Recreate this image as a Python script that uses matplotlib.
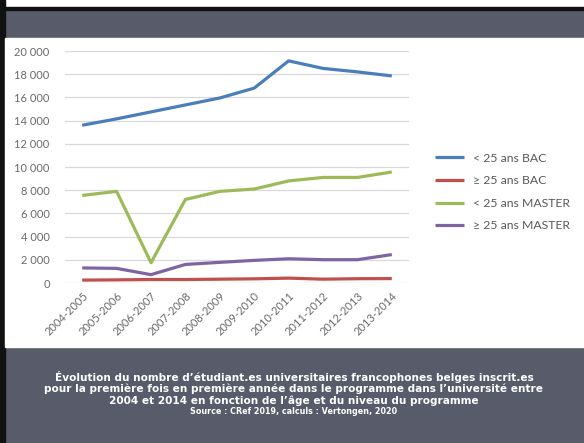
import matplotlib.pyplot as plt
from matplotlib.patches import Rectangle

plt.rcParams['font.family'] = ['Lato', 'DejaVu Sans']

years = ["2004-2005", "2005-2006", "2006-2007", "2007-2008", "2008-2009",
         "2009-2010", "2010-2011", "2011-2012", "2012-2013", "2013-2014"]
bac_young = [13600, 14150, 14750, 15350, 15950, 16800, 19150, 18500, 18200, 17850]
bac_old = [250, 270, 300, 300, 330, 360, 420, 330, 370, 380]
master_young = [7550, 7900, 1750, 7200, 7900, 8100, 8800, 9100, 9100, 9570]
master_old = [1300, 1260, 720, 1600, 1780, 1950, 2090, 2010, 2010, 2450]
yticks = [0, 2000, 4000, 6000, 8000, 10000, 12000, 14000, 16000, 18000, 20000]

series = [
    ("< 25 ans BAC", bac_young, "#4a7ebb"),
    ("\u2265 25 ans BAC", bac_old, "#c0504d"),
    ("< 25 ans MASTER", master_young, "#9bbb59"),
    ("\u2265 25 ans MASTER", master_old, "#8064a2"),
]

W, H = 584, 443
slide = "#585b6a"
fig = plt.figure(figsize=(W / 100, H / 100), dpi=100, facecolor=slide)

def px_rect(x0, y0, x1, y1, color):
    # pixel coords from the top left corner
    fig.patches.append(Rectangle((x0 / W, 1 - y1 / H), (x1 - x0) / W, (y1 - y0) / H,
                                 transform=fig.transFigure, color=color, zorder=-5))

px_rect(0, 0, W, 7, "white")
px_rect(0, 7, W, 10, "#111111")
px_rect(0, 0, 5, H, "#111111")
px_rect(5, 38, W, 347, "white")

ax = fig.add_axes([65 / W, 1 - 283 / H, 344 / W, 232 / H], zorder=2)
ax.set_facecolor("none")
x = list(range(len(years)))
for name, vals, col in series:
    ax.plot(x, vals, color=col, lw=2.3, label=name, solid_capstyle="butt")

ax.set_xlim(-0.5, len(years) - 0.5)
ax.set_ylim(0, 20000)
ax.set_yticks(yticks)
ax.set_yticklabels([f"{v:,}".replace(",", " ") for v in yticks])
ax.set_xticks(x)
ax.set_xticklabels(years, rotation=45, ha="right", rotation_mode="anchor")
ax.tick_params(length=0, labelsize=8, colors="#6a6a6a")
ax.tick_params(axis="y", pad=11)
ax.tick_params(axis="x", pad=5)
ax.grid(axis="y", color="#d9d9d9", lw=0.9)
ax.set_axisbelow(True)
for s in ax.spines.values():
    s.set_visible(False)

fig.legend(loc="center left", bbox_to_anchor=(424 / W, 1 - 192 / H), frameon=False,
           fontsize=8.8, labelcolor="#595959", handlelength=2.4, handletextpad=0.7,
           labelspacing=0.95)

caption = ["\u00c9volution du nombre d\u2019\u00e9tudiant.es universitaires francophones belges inscrit.es",
           "pour la premi\u00e8re fois en premi\u00e8re ann\u00e9e dans le programme dans l\u2019universit\u00e9 entre",
           "2004 et 2014 en fonction de l\u2019\u00e2ge et du niveau du programme"]
for i, line in enumerate(caption):
    fig.text(294 / W, 1 - (377 + 12 * i) / H, line, ha="center", va="center", color="white",
             fontsize=7.6, fontweight="bold", family="DejaVu Sans")
fig.text(294 / W, 1 - 412 / H, "Source : CRef 2019, calculs : Vertongen, 2020",
         ha="center", va="center", color="white", fontsize=5.8, fontweight="bold",
         family="DejaVu Sans")

fig.savefig("out.png", dpi=100, facecolor=slide)
